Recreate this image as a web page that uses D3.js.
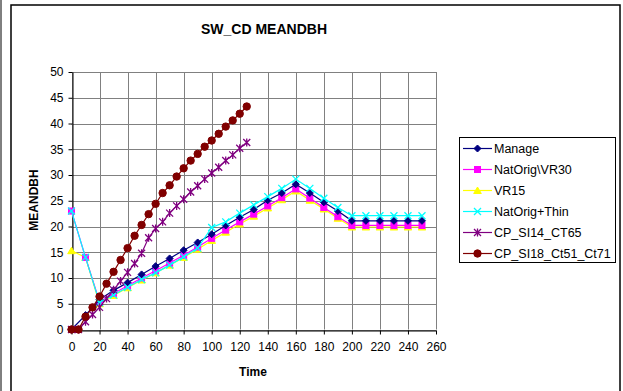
<!DOCTYPE html>
<html><head><meta charset="utf-8">
<script src="https://cdn.jsdelivr.net/npm/d3@7/dist/d3.min.js"></script>
<style>body{margin:0;background:#fff}svg{display:block}text{font-family:Arial,"Liberation Sans",sans-serif}</style>
</head><body><svg id="c" width="623" height="391"></svg>
<script>
const timeA = [0,10,20,30,40,50,60,70,80,90,100,110,120,130,140,150,160,170,180,190,200,210,220,230,240,250];
const timeB = [0,5,10,15,20,25,30,35,40,45,50,55,60,65,70,75,80,85,90,95,100,105,110,115,120,125];
const manage = [0,2.8,5.8,7.6,9.1,10.7,12.3,13.8,15.4,16.9,18.5,20.2,21.8,23.3,25.1,26.5,28.2,26.5,24.7,23.0,21.1,21.1,21.1,21.1,21.1,21.1];
const natOrigVR30 = [23,14,5.4,7.0,8.5,10.0,11.4,12.9,14.4,16.0,17.7,19.3,20.9,22.4,24.0,25.6,27.3,25.5,23.7,21.9,20.2,20.2,20.2,20.2,20.2,20.2];
const vr15 = [15.3,14.0,5.0,6.6,8.1,9.6,11.0,12.5,14.0,15.6,17.3,18.9,20.5,22.0,23.6,25.2,26.9,25.1,23.4,21.6,19.9,19.9,19.9,19.9,19.9,19.9];
const natOrigThin = [23,14,5.2,6.7,8.2,9.7,11.0,12.5,14.1,15.8,19.8,20.9,22.6,24.2,25.8,27.4,29.2,27.4,25.5,23.7,22.1,22.1,22.1,22.1,22.1,22.1];
const cpSI14 = [0,0,1.5,2.9,4.3,6.0,7.7,9.4,11.1,12.8,14.8,17.8,19.6,20.9,22.6,24.0,25.3,26.7,27.9,29.2,30.4,31.5,32.8,33.9,35.2,36.3];
const cpSI18 = [0,0,2.5,4.3,6.4,8.9,11.2,13.5,15.8,18.2,20.3,22.4,24.4,26.5,28.0,29.7,31.3,32.8,34.1,35.5,36.7,38.0,39.4,40.6,41.9,43.3];
const seriesNames = ["Manage","NatOrig\\VR30","VR15","NatOrig+Thin","CP_SI14_CT65","CP_SI18_Ct51_Ct71"];
const xTicks = [0,20,40,60,80,100,120,140,160,180,200,220,240,260];
const yTicks = [0,5,10,15,20,25,30,35,40,45,50];

const series = [
  {name:seriesNames[0], t:timeA, v:manage, color:"#000080", marker:"diamond", z:3},
  {name:seriesNames[1], t:timeA, v:natOrigVR30, color:"#FF00FF", marker:"square", z:2},
  {name:seriesNames[2], t:timeA, v:vr15, color:"#FFFF00", marker:"triangle", z:1},
  {name:seriesNames[3], t:timeA, v:natOrigThin, color:"#00FFFF", marker:"x", z:4},
  {name:seriesNames[4], t:timeB, v:cpSI14, color:"#800080", marker:"star", z:5},
  {name:seriesNames[5], t:timeB, v:cpSI18, color:"#800000", marker:"circle", z:6}
];

const svg = d3.select("#c");
svg.append("line").attr("x1",1).attr("x2",1).attr("y1",0).attr("y2",391).attr("stroke","#000").attr("stroke-width",1);
svg.append("rect").attr("x",11).attr("y",5).attr("width",609).attr("height",400)
  .attr("fill","#fff").attr("stroke","#000").attr("stroke-width",1.5);

const L=71.5, R=436, T=72, B=329.5;
const x = d3.scaleLinear().domain([0,260]).range([L,R]);
const y = d3.scaleLinear().domain([0,50]).range([B,T]);

const g = svg.append("g");
g.selectAll(".hg").data(yTicks).join("line").attr("x1",L).attr("x2",R)
  .attr("y1",d=>Math.round(y(d))+0.5).attr("y2",d=>Math.round(y(d))+0.5).attr("stroke","#808080");
g.selectAll(".vg").data(xTicks).join("line").attr("y1",T).attr("y2",B)
  .attr("x1",d=>Math.round(x(d))+0.5).attr("x2",d=>Math.round(x(d))+0.5).attr("stroke","#808080");

const xa = svg.append("g").attr("transform",`translate(0,${Math.round(B)+0.5})`)
  .call(d3.axisBottom(x).tickValues(xTicks).tickSize(4).tickPadding(8).tickSizeOuter(0));
const ya = svg.append("g").attr("transform",`translate(${Math.round(L)+0.5},0)`)
  .call(d3.axisLeft(y).tickValues(yTicks).tickSize(4).tickPadding(5).tickSizeOuter(0));
[xa,ya].forEach(a=>{a.select(".domain").attr("stroke","#000");a.selectAll(".tick line").attr("stroke","#000");
  a.selectAll("text").attr("font-size","12px").attr("fill","#000").attr("font-family","Arial, 'Liberation Sans', sans-serif");});

const line = d3.line().x(d=>x(d[0])).y(d=>y(d[1]));
function drawMarker(sel, type, color){
  if(type==="diamond") sel.append("path").attr("d","M0,-3.5L3.5,0L0,3.5L-3.5,0Z").attr("fill",color).attr("stroke",color);
  else if(type==="square") sel.append("rect").attr("x",-3).attr("y",-3).attr("width",6).attr("height",6).attr("fill",color).attr("stroke",color);
  else if(type==="triangle") sel.append("path").attr("d","M0,-3.5L3.8,3L-3.8,3Z").attr("fill",color).attr("stroke",color);
  else if(type==="x") sel.append("path").attr("d","M-3.5,-3.5L3.5,3.5M3.5,-3.5L-3.5,3.5").attr("stroke",color).attr("stroke-width",1.3).attr("fill","none");
  else if(type==="star") sel.append("path").attr("d","M-3.5,-3.5L3.5,3.5M3.5,-3.5L-3.5,3.5M0,-4L0,4").attr("stroke",color).attr("stroke-width",1.3).attr("fill","none");
  else if(type==="circle") sel.append("circle").attr("r",3.7).attr("fill",color).attr("stroke",color);
}
series.slice().sort((a,b)=>a.z-b.z).forEach(s=>{
  const pts = s.t.map((t,i)=>[t,s.v[i]]);
  svg.append("path").datum(pts).attr("d",line).attr("fill","none").attr("stroke",s.color).attr("stroke-width",1.2);
  pts.forEach(p=>{
    const m = svg.append("g").attr("transform",`translate(${x(p[0])},${y(p[1])})`);
    drawMarker(m,s.marker,s.color);
  });
});

svg.append("text").attr("x",264).attr("y",34).attr("text-anchor","middle").attr("font-size","14px").attr("font-weight","bold").text("SW_CD MEANDBH");
svg.append("text").attr("x",253).attr("y",376).attr("text-anchor","middle").attr("font-size","12px").attr("font-weight","bold").text("Time");
svg.append("text").attr("transform","translate(38,200) rotate(-90)").attr("text-anchor","middle").attr("font-size","12px").attr("font-weight","bold").text("MEANDBH");

const lg = svg.append("g");
lg.append("rect").attr("x",459.5).attr("y",137.5).attr("width",156).attr("height",125).attr("fill","#fff").attr("stroke","#000");
series.forEach((s,i)=>{
  const yy = 148.5 + i*21;
  lg.append("line").attr("x1",463).attr("x2",492).attr("y1",yy).attr("y2",yy).attr("stroke",s.color).attr("stroke-width",1.2);
  const m = lg.append("g").attr("transform",`translate(477.5,${yy})`);
  drawMarker(m,s.marker,s.color);
  lg.append("text").attr("x",494).attr("y",yy+4.5).attr("font-size","12.5px").text(s.name);
});
</script></body></html>
